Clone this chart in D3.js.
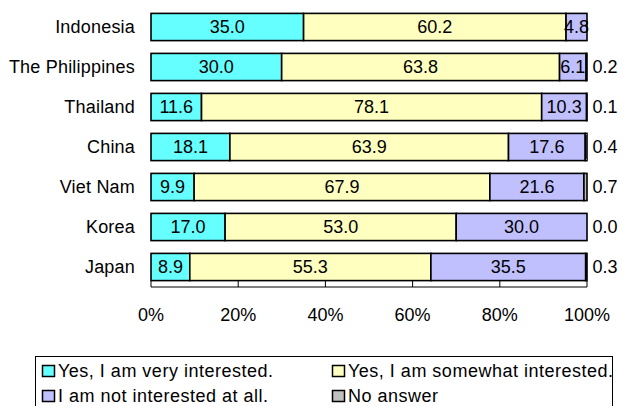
<!DOCTYPE html>
<html><head><meta charset="utf-8">
<script src="https://cdn.jsdelivr.net/npm/d3@7"></script>
<style>
body{margin:0;background:#fff;}
svg{display:block;font-family:"Liberation Sans",Arial,sans-serif;}
</style></head><body>
<svg id="c" width="623" height="406"></svg>
<script>
const countries = ["Indonesia","The Philippines","Thailand","China","Viet Nam","Korea","Japan"];
const veryInterested = [35.0,30.0,11.6,18.1,9.9,17.0,8.9];
const somewhatInterested = [60.2,63.8,78.1,63.9,67.9,53.0,55.3];
const notInterested = [4.8,6.1,10.3,17.6,21.6,30.0,35.5];
const noAnswer = [null,0.2,0.1,0.4,0.7,0.0,0.3];
const seriesNames = ["Yes, I am very interested.","Yes, I am somewhat interested.","I am not interested at all.","No answer"];
const tickValues = [0,20,40,60,80,100];

const colors = ["#66FFFF","#FFFFC0","#C0C0FF","#C0C0C0"];
const svg = d3.select("#c");
const x = d3.scaleLinear().domain([0,100]).range([151,587]);
const y = d3.scaleBand().domain(countries).range([7,287]).paddingInner(0.32).paddingOuter(0.16);
const FS = 18;

const series = [veryInterested, somewhatInterested, notInterested, noAnswer];
countries.forEach((c,i)=>{
  const vals = series.map(s=>s[i]==null?0:s[i]);
  const total = d3.sum(vals);
  let acc = 0;
  const g = svg.append("g");
  vals.forEach((v,k)=>{
    const x0 = x(acc/total*100), x1 = x((acc+v)/total*100);
    acc += v;
    if (v>0) {
      g.append("rect").attr("x",x0).attr("y",y(c)).attr("width",x1-x0).attr("height",y.bandwidth())
        .attr("fill",colors[k]).attr("stroke","#000").attr("stroke-width",1.6);
    }
  });
  acc = 0;
  vals.forEach((v,k)=>{
    const x0 = x(acc/total*100), x1 = x((acc+v)/total*100);
    acc += v;
    if (k<3) {
      g.append("text").attr("x",(x0+x1)/2).attr("y",y(c)+y.bandwidth()/2)
        .attr("dy","0.36em").attr("text-anchor","middle").attr("font-size",FS).attr("fill","#000")
        .text(v.toFixed(1));
    } else if (series[k][i]!=null) {
      g.append("text").attr("x",x(100)+18).attr("y",y(c)+y.bandwidth()/2)
        .attr("dy","0.36em").attr("text-anchor","middle").attr("font-size",FS).attr("fill","#000")
        .text(v.toFixed(1));
    }
  });
  svg.append("text").attr("x",135).attr("y",y(c)+y.bandwidth()/2).attr("dy","0.36em")
    .attr("text-anchor","end").attr("font-size",FS).attr("letter-spacing",0.2).attr("fill","#000").text(c);
});

// axis
const ax = svg.append("g");
ax.append("line").attr("x1",x(0)).attr("x2",x(100)).attr("y1",287).attr("y2",287).attr("stroke","#000").attr("stroke-width",1);
tickValues.forEach(t=>{
  ax.append("line").attr("x1",x(t)).attr("x2",x(t)).attr("y1",281).attr("y2",287).attr("stroke","#000");
  ax.append("text").attr("x",x(t)).attr("y",321).attr("text-anchor","middle").attr("font-size",FS).attr("fill","#000").text(t+"%");
});

// legend
const lg = svg.append("g");
lg.append("rect").attr("x",35.5).attr("y",356.5).attr("width",577).attr("height",60).attr("fill","#fff").attr("stroke","#000").attr("stroke-width",1);
const pos = [[42,371],[332,371],[42,396],[332,396]];
seriesNames.forEach((n,k)=>{
  const [px,py] = pos[k];
  lg.append("rect").attr("x",px+0.5).attr("y",py-5.5).attr("width",12).attr("height",11).attr("fill",colors[k]).attr("stroke","#000").attr("stroke-width",1.5);
  lg.append("text").attr("x",px+16).attr("y",py).attr("dy","0.36em").attr("font-size",FS).attr("letter-spacing",0.5).attr("fill","#000").text(n);
});
</script>
</body></html>
